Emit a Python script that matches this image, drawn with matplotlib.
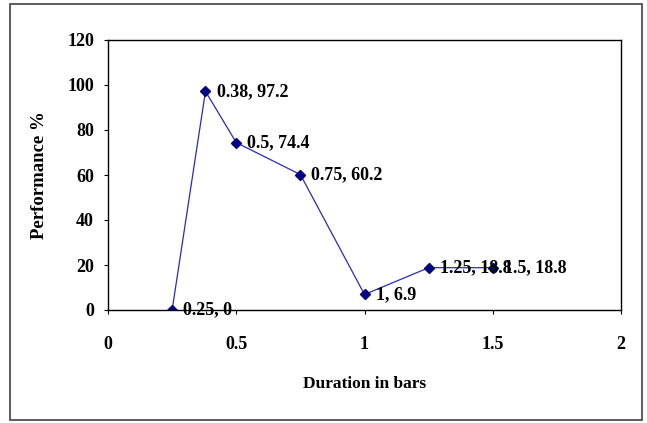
import matplotlib
matplotlib.use("Agg")
import matplotlib.pyplot as plt
from matplotlib.patches import Rectangle

# Performance vs duration data
duration = [0.25, 0.38, 0.5, 0.75, 1, 1.25, 1.5]
performance = [0, 97.2, 74.4, 60.2, 6.9, 18.8, 18.8]
point_labels = ["0.25, 0", "0.38, 97.2", "0.5, 74.4", "0.75, 60.2",
                "1, 6.9", "1.25, 18.8", "1.5, 18.8"]
x_ticks = [0, 0.5, 1, 1.5, 2]
y_ticks = [0, 20, 40, 60, 80, 100, 120]

plt.rcParams["font.family"] = "Liberation Serif"
plt.rcParams["font.weight"] = "bold"

fig = plt.figure(figsize=(6.47, 4.23), dpi=100)
ax = fig.add_axes([108 / 647, 1 - 310 / 423, (621 - 108) / 647, (310 - 40) / 423])

# outer chart border
fig.patches.append(Rectangle((10 / 647, 3 / 423), 632 / 647, 416 / 423,
                             transform=fig.transFigure, fill=False,
                             edgecolor="#404040", linewidth=1.2))

ax.plot(duration, performance, color="#2a2ab8", linewidth=0.9,
        marker="D", markersize=5, markerfacecolor="#000080",
        markeredgecolor="#000080")

for x, y, lab in zip(duration, performance, point_labels):
    ax.annotate(lab, (x, y), xytext=(8, 0), textcoords="offset points",
                va="center", ha="left", fontsize=13, fontweight="bold")

ax.set_xlim(0, 2)
ax.set_ylim(0, 120)
ax.set_xticks(x_ticks)
ax.set_xticklabels(["0", "0.5", "1", "1.5", "2"])
ax.set_yticks(y_ticks)

for side in ax.spines.values():
    side.set_linewidth(1.0)
    side.set_color("black")

ax.tick_params(axis="x", direction="out", length=3, pad=16, labelsize=13)
ax.tick_params(axis="y", direction="out", length=3, pad=7, labelsize=13)

ax.set_xlabel("Duration in bars", fontsize=12.5, fontweight="bold", labelpad=16)
ax.set_ylabel("Performance %", fontsize=13.5, fontweight="bold", labelpad=14)

fig.savefig("out.png", dpi=100)
